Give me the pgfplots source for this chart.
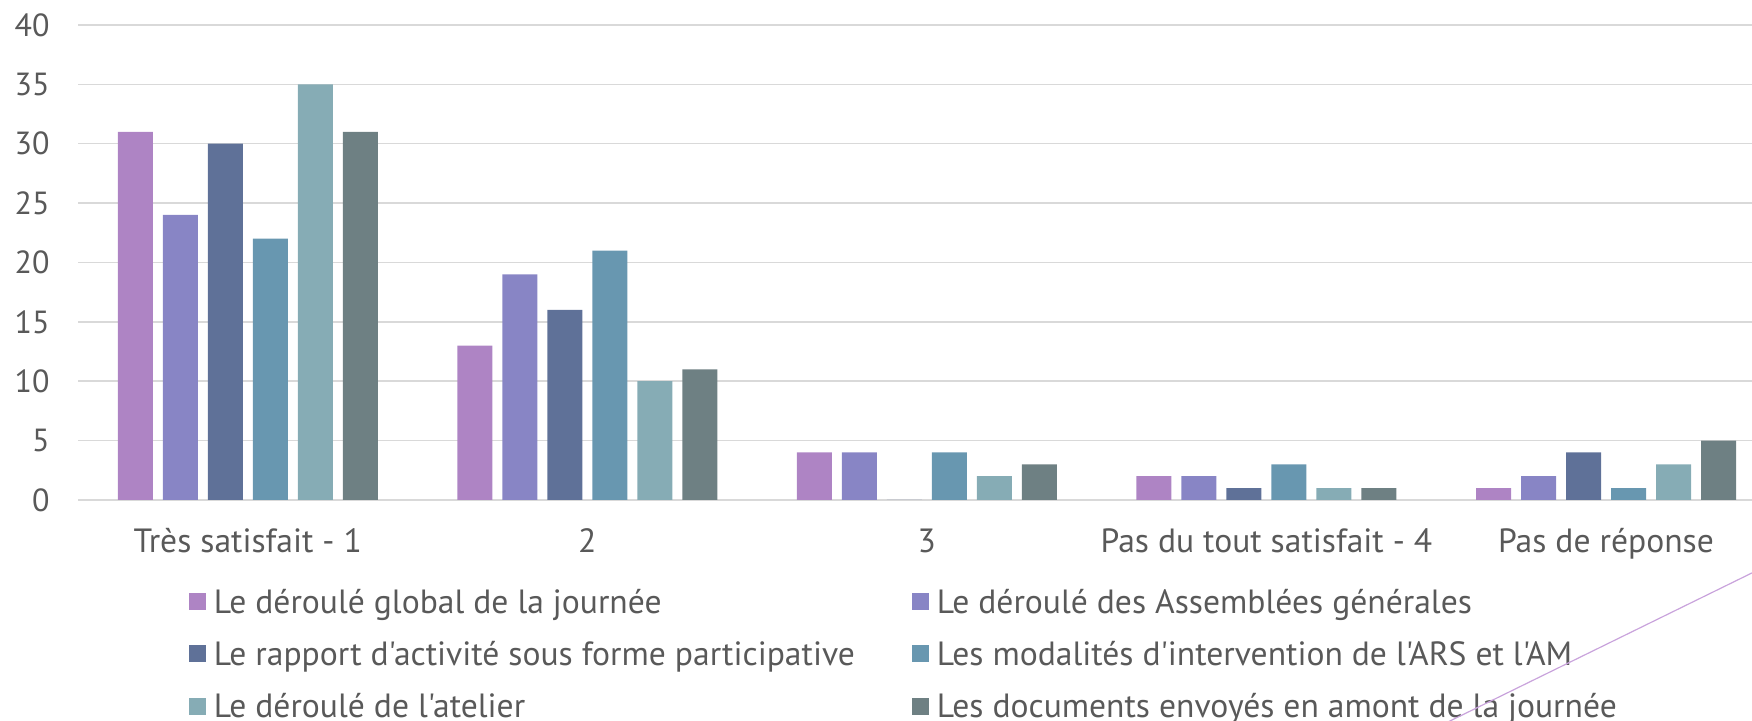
\documentclass[border=0pt]{standalone}
\usepackage{fontspec}
\setmainfont{PT Sans}[Ligatures=TeXOff]
\usepackage{pgfplots}
\pgfplotsset{compat=1.18}
\definecolor{c1}{HTML}{AE84C4}
\definecolor{c2}{HTML}{8885C5}
\definecolor{c3}{HTML}{5F7198}
\definecolor{c4}{HTML}{6897B0}
\definecolor{c5}{HTML}{86ACB5}
\definecolor{c6}{HTML}{6E8083}
\definecolor{txt}{HTML}{595959}
\definecolor{grd}{HTML}{D9D9D9}
\definecolor{deco}{HTML}{C9A3DC}
\pgfplotsset{sqlegend/.style={legend image code/.code={\fill[##1] (0pt,-2.5pt) rectangle (8.5pt,6pt);}}}
\begin{document}
\begin{tikzpicture}
\useasboundingbox (0,0) rectangle (876pt,360.5pt);
\begin{axis}[
  at={(39pt,110.5pt)}, anchor=south west,
  scale only axis, width=837pt, height=237.5pt,
  xmin=-0.5, xmax=4.43, ymin=0, ymax=40,
  ybar=5pt, bar width=17.5pt,
  xtick={0,1,2,3,4},
  xticklabels={Très satisfait - 1, 2, 3, Pas du tout satisfait - 4, Pas de réponse},
  ytick={0,5,...,40},
  axis line style={draw=none}, major tick length=0pt,
  ymajorgrids, grid style={grd, line width=0.75pt},
  font=\fontsize{16.8}{20}\selectfont,
  ticklabel style={text=txt},
  /pgf/number format/assume math mode=true,
  yticklabel style={anchor=east, inner sep=0pt, xshift=-14pt, font=\fontsize{16}{19}\selectfont},
  xticklabel style={anchor=base, inner sep=0pt, yshift=-26.5pt, font=\fontsize{16.8}{20}\selectfont},
  legend columns=2, legend cell align=left,
  legend style={at={(0.0663,-0.188)}, anchor=north west, draw=none, fill=none,
    inner sep=0pt, outer sep=0pt, row sep=10.1pt, text=txt,
    font=\fontsize{16.8}{20}\selectfont,
    nodes={inner sep=0pt, text height=12pt, text depth=4pt},
    /tikz/every odd column/.append style={column sep=4pt}},
]
\addplot[fill=c1, draw=none, sqlegend] coordinates {(0,31) (1,13) (2,4) (3,2) (4,1)};
\addplot[fill=c2, draw=none, sqlegend] coordinates {(0,24) (1,19) (2,4) (3,2) (4,2)};
\addplot[fill=c3, draw=none, sqlegend] coordinates {(0,30) (1,16) (2,0) (3,1) (4,4)};
\addplot[fill=c4, draw=none, sqlegend] coordinates {(0,22) (1,21) (2,4) (3,3) (4,1)};
\addplot[fill=c5, draw=none, sqlegend] coordinates {(0,35) (1,10) (2,2) (3,1) (4,3)};
\addplot[fill=c6, draw=none, sqlegend] coordinates {(0,31) (1,11) (2,3) (3,1) (4,5)};
\legend{\makebox[349pt][l]{Le déroulé global de la journée}, Le déroulé des Assemblées générales,
  \makebox[349pt][l]{Le rapport d'activité sous forme participative}, Les modalités d'intervention de l'ARS et l'AM,
  \makebox[349pt][l]{Le déroulé de l'atelier}, Les documents envoyés en amont de la journée}
\end{axis}
\draw[deco, line width=0.6pt] (700pt,-12.25pt) -- (890pt,80.9pt);
\end{tikzpicture}
\end{document}
